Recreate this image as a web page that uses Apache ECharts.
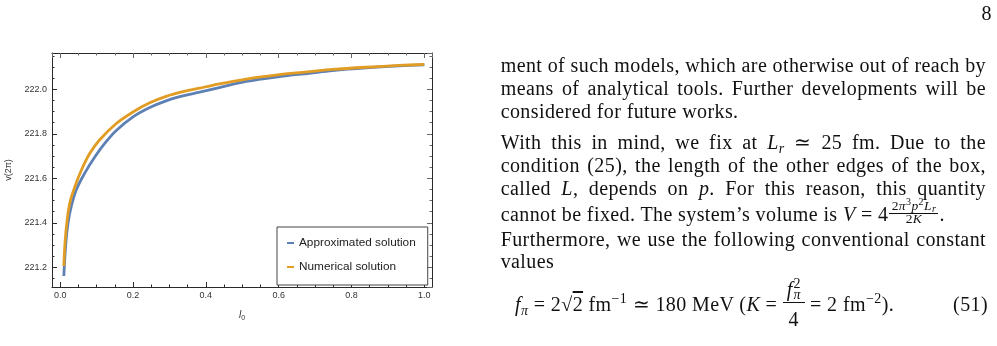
<!DOCTYPE html>
<html>
<head>
<meta charset="utf-8">
<script src="https://cdn.jsdelivr.net/npm/echarts@6/dist/echarts.min.js"></script>
<style>
  html, body { margin:0; padding:0; background:#fff; }
  #wrap { position:relative; width:997px; height:346px; overflow:hidden; }
  #chart { position:absolute; left:0; top:0; width:997px; height:346px; }
  .t { position:absolute; font-family:"Liberation Serif", serif; font-size:20px; line-height:24px; color:#111; white-space:nowrap; letter-spacing:0.4px; }
  .j { left:500.7px; width:485.3px; text-align:justify; text-align-last:justify; white-space:normal; }
  .l { left:500.7px; }
  i { font-style:italic; }
  .sub { font-size:14px; position:relative; top:4px; }
  .sup { font-size:14px; position:relative; top:-8px; }
  .frac { display:inline-block; position:relative; height:1px; vertical-align:baseline; }
  .frac > span { position:absolute; left:0; right:0; text-align:center; white-space:nowrap; }
</style>
</head>
<body>
<div id="wrap">
  <div id="chart"></div>
  <div class="t" style="right:5px; top:1.3px;">8</div>
  <div class="t j" style="top:53px;">ment of such models, which are otherwise out of reach by</div>
  <div class="t j" style="top:76.2px;">means of analytical tools. Further developments will be</div>
  <div class="t l" style="top:99.2px;">considered for future works.</div>
  <div class="t j" style="top:130.2px;">With this in mind, we fix at <i>L</i><span class="sub"><i>r</i></span> &#x2243; 25 fm. Due to the</div>
  <div class="t j" style="top:153.2px;">condition (25), the length of the other edges of the box,</div>
  <div class="t j" style="top:176.2px;">called <i>L</i>, depends on <i>p</i>. For this reason, this quantity</div>
  <div class="t l" style="top:202px;">cannot be fixed. The system’s volume is <i>V</i> = 4<span class="frac" style="width:49px; margin:0 1px;"><span style="font-size:13.5px; line-height:14px; top:-21px;">2<i>π</i><span style="font-size:10px; position:relative; top:-5px;">3</span><i>p</i><span style="font-size:10px; position:relative; top:-5px;">2</span><i>L</i><span style="font-size:10px; position:relative; top:2px;"><i>r</i></span></span><span style="top:-7px; height:0; border-top:0.8px solid #111;"></span><span style="font-size:13.5px; line-height:14px; top:-8px;">2<i>K</i></span></span>.</div>
  <div class="t j" style="top:226.8px;">Furthermore, we use the following conventional constant</div>
  <div class="t l" style="top:249px;">values</div>
  <div class="t" style="left:515px; top:292px;"><i>f</i><span class="sub"><i>π</i></span> = 2&#x221A;<span style="text-decoration:overline;">2</span> fm<span class="sup">&#x2212;1</span> &#x2243; 180 MeV (<i>K</i> = <span class="frac" style="width:22px;"><span style="line-height:20px; top:-30.8px;"><i>f</i><span style="display:inline-block; position:relative; width:8px; height:1px; font-size:14px; line-height:20px;"><span style="position:absolute; left:1px; top:-21px;">2</span><span style="position:absolute; left:1px; top:-10px;"><i>π</i></span></span></span><span style="top:-8px; height:0; border-top:1px solid #111;"></span><span style="line-height:20px; top:-0.8px;">4</span></span> = 2 fm<span class="sup">&#x2212;2</span>).</div>
  <div class="t" style="right:9px; top:292px;">(51)</div>
</div>
<script>
// ---- data ----
const seriesNames = ['Approximated solution', 'Numerical solution'];
const l0Approx = [0.01, 0.0135, 0.019, 0.028, 0.044, 0.067, 0.095, 0.125, 0.154, 0.2, 0.246, 0.291, 0.337, 0.383, 0.419, 0.511, 0.602, 0.684, 0.748, 0.84, 0.931, 1.0];
const vApprox  = [221.161, 221.262, 221.367, 221.457, 221.547, 221.622, 221.696, 221.762, 221.815, 221.876, 221.918, 221.948, 221.970, 221.987, 222.001, 222.035, 222.057, 222.072, 222.084, 222.096, 222.105, 222.110];
const l0Numerical = [0.01, 0.0125, 0.017, 0.026, 0.04, 0.058, 0.081, 0.108, 0.154, 0.2, 0.246, 0.291, 0.337, 0.383, 0.419, 0.511, 0.602, 0.684, 0.748, 0.84, 0.931, 1.0];
const vNumerical  = [221.206, 221.292, 221.382, 221.487, 221.561, 221.636, 221.711, 221.772, 221.846, 221.898, 221.939, 221.968, 221.989, 222.005, 222.018, 222.046, 222.066, 222.079, 222.089, 222.099, 222.107, 222.112];
const xTickLabels = ['0.0', '0.2', '0.4', '0.6', '0.8', '1.0'];
const yTickLabels = ['221.2', '221.4', '221.6', '221.8', '222.0'];
const xRange = [-0.0225, 1.021];
const yRange = [221.1115, 222.163];

const colors = ['#5E81B5', '#E19C24'];
const frameColor = '#2a2a2a';
const sideTickColor = '#666';

function zip(xs, ys) { return xs.map((x, i) => [x, ys[i]]); }
function labelFmt(list) {
  return function (v) {
    const s = v.toFixed(1);
    return list.indexOf(s) >= 0 && Math.abs(v * 5 - Math.round(v * 5)) < 1e-6 ? s : '';
  };
}

const chart = echarts.init(document.getElementById('chart'), null, { renderer: 'canvas' });

function axisBase(range, tickColor) {
  return {
    type: 'value',
    min: range[0],
    max: range[1],
    minInterval: 0.2,
    maxInterval: 0.2,
    splitLine: { show: false },
    axisLine: { show: true, onZero: false, lineStyle: { color: frameColor, width: 1 } },
    axisTick: { show: true, inside: true, length: 5, lineStyle: { color: tickColor, width: 1 } },
    minorTick: { show: true, splitNumber: 4, length: 2.5, lineStyle: { color: tickColor, width: 1 } },
    minorSplitLine: { show: false }
  };
}

const option = {
  animation: false,
  grid: { left: 52, top: 53, width: 380, height: 234, containLabel: false },
  legend: {
    data: seriesNames,
    orient: 'vertical',
    left: 277,
    top: 227,
    padding: [9, 12, 11, 10],
    itemGap: 10,
    itemWidth: 7,
    itemHeight: 2,
    icon: 'rect',
    borderColor: '#444',
    borderWidth: 1,
    backgroundColor: '#fff',
    textStyle: { fontSize: 11.8, color: '#222', fontFamily: 'Liberation Sans', lineHeight: 14 }
  },
  xAxis: [
    Object.assign(axisBase(xRange, frameColor), {
      position: 'bottom',
      axisLabel: { formatter: labelFmt(xTickLabels), color: '#333', fontSize: 9, margin: 4, fontFamily: 'Liberation Sans', showMinLabel: true, showMaxLabel: true },
      name: '{i|l}{s|0}',
      nameLocation: 'middle',
      nameGap: 22,
      nameTextStyle: {
        rich: {
          i: { fontStyle: 'italic', fontSize: 10, fontFamily: 'Liberation Sans', color: '#333', lineHeight: 12 },
          s: { fontSize: 7, fontFamily: 'Liberation Sans', color: '#333', lineHeight: 12, padding: [6, 0, 0, 0] }
        }
      }
    }),
    Object.assign(axisBase(xRange, sideTickColor), {
      position: 'top',
      axisLabel: { show: false }
    })
  ],
  yAxis: [
    Object.assign(axisBase(yRange, frameColor), {
      position: 'left',
      axisLabel: { formatter: labelFmt(yTickLabels), color: '#333', fontSize: 9, margin: 5, fontFamily: 'Liberation Sans', showMinLabel: true, showMaxLabel: true },
      name: 'v(2\u03C0)',
      nameLocation: 'middle',
      nameGap: 39,
      nameTextStyle: { fontSize: 9, color: '#333', fontFamily: 'Liberation Sans' }
    }),
    Object.assign(axisBase(yRange, sideTickColor), {
      position: 'right',
      axisLabel: { show: false }
    })
  ],
  series: [
    {
      name: seriesNames[0], type: 'line', xAxisIndex: 0, yAxisIndex: 0,
      data: zip(l0Approx, vApprox), showSymbol: false, symbol: 'none',
      smooth: 0.35,
      lineStyle: { color: colors[0], width: 2.8 }, itemStyle: { color: colors[0] }
    },
    {
      name: seriesNames[1], type: 'line', xAxisIndex: 0, yAxisIndex: 0,
      data: zip(l0Numerical, vNumerical), showSymbol: false, symbol: 'none',
      smooth: 0.35,
      lineStyle: { color: colors[1], width: 2.8 }, itemStyle: { color: colors[1] }
    }
  ]
};
chart.setOption(option);
</script>
</body>
</html>
